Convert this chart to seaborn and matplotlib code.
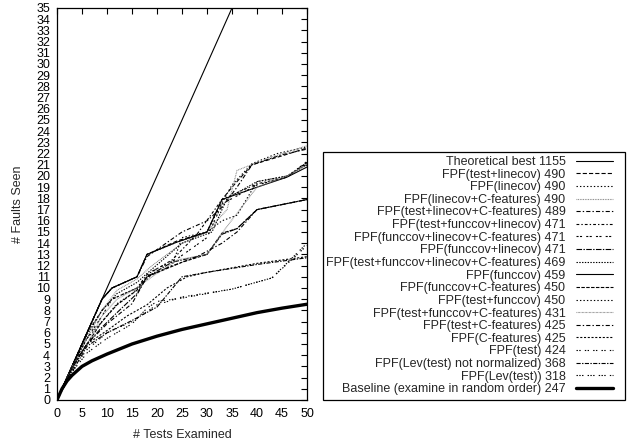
import matplotlib
matplotlib.use("Agg")
import matplotlib.pyplot as plt
from matplotlib.patches import Rectangle
import seaborn as sns
import pandas as pd

# ---------------- data ----------------
labels = [
    "Theoretical best 1155",
    "FPF(test+linecov) 490",
    "FPF(linecov) 490",
    "FPF(linecov+C-features) 490",
    "FPF(test+linecov+C-features) 489",
    "FPF(test+funccov+linecov) 471",
    "FPF(funccov+linecov+C-features) 471",
    "FPF(funccov+linecov) 471",
    "FPF(test+funccov+linecov+C-features) 469",
    "FPF(funccov) 459",
    "FPF(funccov+C-features) 450",
    "FPF(test+funccov) 450",
    "FPF(test+funccov+C-features) 431",
    "FPF(test+C-features) 425",
    "FPF(C-features) 425",
    "FPF(test) 424",
    "FPF(Lev(test) not normalized) 368",
    "FPF(Lev(test)) 318",
    "Baseline (examine in random order) 247",
]

best_x = [0, 50]
best_y = [0, 50]
test_linecov_x = [0, 3, 6, 9, 11, 16, 18, 24, 30, 33, 35, 39, 45, 50]
test_linecov_y = [0, 3, 6, 9, 10, 11, 13, 14.2, 15, 17.9, 19, 21, 21.8, 22.5]
linecov_x = [0, 3, 6, 9, 11, 16, 18, 24, 30, 32, 35, 39, 44, 50]
linecov_y = [0, 3, 6, 9, 10, 11, 13, 14.1, 15, 16.8, 19.2, 21.1, 22, 22.6]
linecov_c_x = [0, 3, 6, 9, 12, 16, 19, 25, 30, 34, 36, 40, 45, 50]
linecov_c_y = [0, 3, 5.5, 8, 9.8, 10.8, 12, 14, 15, 17, 20.5, 21.2, 22, 22.7]
test_linecov_c_x = [0, 3, 6, 9, 11, 16, 18, 25, 30, 33, 36, 39, 45, 50]
test_linecov_c_y = [0, 3, 6, 9, 10, 11, 12.8, 15, 16, 17.2, 19, 21, 21.9, 22.4]
test_funccov_linecov_x = [0, 3, 6, 9, 11, 16, 18, 23, 28, 33, 40, 46, 50]
test_funccov_linecov_y = [0, 3, 6, 8, 9, 10, 11.2, 12.5, 14.8, 17.9, 19.3, 19.9, 21.2]
funccov_linecov_c_x = [0, 3, 6, 9, 11, 16, 19, 24, 30, 33, 40, 46, 50]
funccov_linecov_c_y = [0, 3, 5.5, 7.5, 9, 10, 11.5, 12.6, 14.5, 17.5, 19.2, 19.9, 21.3]
funccov_linecov_x = [0, 3, 6, 9, 12, 16, 18, 23, 30, 33, 36, 40, 50]
funccov_linecov_y = [0, 2.8, 5, 6.5, 7.8, 9.5, 11, 12.3, 13, 14.8, 15.3, 17, 17.9]
test_funccov_linecov_c_x = [0, 3, 6, 9, 12, 16, 18, 25, 31, 34, 40, 46, 50]
test_funccov_linecov_c_y = [0, 3, 5.8, 8, 9.5, 10.5, 11.3, 14, 15, 18, 19.5, 20, 21]
funccov_x = [0, 3, 6, 9, 11, 16, 18, 24, 30, 33, 40, 46, 50]
funccov_y = [0, 3, 6, 9, 10, 11, 13, 14.1, 15, 17.9, 19, 19.9, 20.8]
funccov_c_x = [0, 3, 6, 9, 12, 16, 18, 25, 30, 33, 36, 40, 50]
funccov_c_y = [0, 3, 5, 7, 8.5, 9.8, 11, 12.3, 13, 14.9, 15.3, 17, 17.9]
test_funccov_x = [0, 3, 6, 9, 12, 15, 19, 23, 25, 30, 33, 36, 40, 46, 50]
test_funccov_y = [0, 3, 5.5, 7, 8.6, 9.5, 11.2, 12, 14.5, 15, 16, 16.5, 19.5, 20, 21.2]
test_funccov_c_x = [0, 3, 6, 9, 12, 16, 19, 24, 30, 34, 40, 46, 50]
test_funccov_c_y = [0, 3, 5, 7.5, 9, 10, 11, 12.5, 13, 15.5, 19, 20, 21]
test_c_x = [0, 3, 6, 10, 15, 18, 22, 28, 33, 36, 40, 50]
test_c_y = [0, 3, 5, 6.8, 8.6, 11, 11.8, 12.8, 14, 15, 17, 17.9]
c_features_x = [0, 3, 6, 10, 14, 18, 22, 26, 30, 35, 40, 50]
c_features_y = [0, 2.8, 5, 6.2, 7.5, 8.5, 10, 11, 11.4, 11.8, 12.2, 12.8]
test_x = [0, 3, 6, 10, 15, 20, 25, 35, 43, 50]
test_y = [0, 2.7, 4.5, 6, 7, 8.5, 9.2, 9.9, 10.9, 13.8]
lev_nn_x = [0, 3, 6, 10, 15, 20, 25, 30, 40, 50]
lev_nn_y = [0, 2.5, 4.8, 6, 7.1, 8.3, 11, 11.4, 12.1, 12.7]
lev_x = [0, 3, 6, 10, 15, 18, 20, 25, 35, 43, 50]
lev_y = [0, 2.5, 4.2, 5.5, 6.8, 8.2, 8.8, 9.1, 9.9, 10.9, 14]
baseline_x = [0, 1, 2, 3, 5, 7, 10, 15, 20, 25, 30, 35, 40, 45, 50]
baseline_y = [0, 1.0, 1.7, 2.2, 3.0, 3.5, 4.1, 5.0, 5.7, 6.3, 6.8, 7.3, 7.8, 8.2, 8.55]

xs = [best_x, test_linecov_x, linecov_x, linecov_c_x, test_linecov_c_x,
      test_funccov_linecov_x, funccov_linecov_c_x, funccov_linecov_x,
      test_funccov_linecov_c_x, funccov_x, funccov_c_x, test_funccov_x,
      test_funccov_c_x, test_c_x, c_features_x, test_x, lev_nn_x, lev_x, baseline_x]
ys = [best_y, test_linecov_y, linecov_y, linecov_c_y, test_linecov_c_y,
      test_funccov_linecov_y, funccov_linecov_c_y, funccov_linecov_y,
      test_funccov_linecov_c_y, funccov_y, funccov_c_y, test_funccov_y,
      test_funccov_c_y, test_c_y, c_features_y, test_y, lev_nn_y, lev_y, baseline_y]

# ---------------- styles ----------------
styles = [
    "-", (0, (3, 1.5)), (0, (1, 1.5)), (0, (0.6, 0.6)), (0, (3, 1.5, 1, 1.5)),
    (0, (2, 1.5, 1, 1.5)), (0, (1.5, 1, 1.5, 3)), (0, (4, 1, 1, 1)), (0, (1, 1)),
    "-", (0, (2.5, 1)), (0, (1, 1.5)), (0, (0.5, 0.5)), (0, (3, 1.5, 1, 1.5)),
    (0, (1.5, 1.2)), (0, (1, 1, 1, 3)), (0, (3, 1, 1, 1)), (0, (1, 1, 1, 1, 1, 3)), "-",
]
colors = ["black"] * 19
colors[3] = "#808080"
colors[12] = "#808080"
widths = [0.8] * 19
widths[18] = 2.4

sns.set_style("white")
plt.rcParams["font.family"] = ["Liberation Sans", "DejaVu Sans"]
plt.rcParams["lines.scale_dashes"] = False

FS = 9
W, H = 631, 442
fig = plt.figure(figsize=(W / 100, H / 100), dpi=100)
ax = fig.add_axes([57 / W, (H - 400) / H, 250 / W, 392 / H])

handles = []
for i in range(19):
    df = pd.DataFrame({"x": xs[i], "y": ys[i]})
    sns.lineplot(data=df, x="x", y="y", ax=ax, color=colors[i], linewidth=widths[i],
                 linestyle=styles[i], estimator=None, legend=False)
    handles.append(ax.get_lines()[-1])

ax.set_xlim(0, 50)
ax.set_ylim(0, 35)
ax.set_xticks(range(0, 51, 5))
ax.set_yticks(range(0, 36, 1))
ax.tick_params(direction="in", length=4, width=0.8, top=True, right=True,
               labelsize=FS, colors="black")
ax.tick_params(axis="y", pad=5)
ax.tick_params(axis="x", pad=6)
for sp in ax.spines.values():
    sp.set_color("black")
    sp.set_linewidth(0.9)
ax.set_xlabel("# Tests Examined", fontsize=FS, labelpad=6)
ax.set_ylabel("# Faults Seen", fontsize=FS, labelpad=9)

leg = ax.legend(handles, labels, loc="upper right",
                bbox_to_anchor=(613 / W, (H - 156) / H), bbox_transform=fig.transFigure,
                markerfirst=False, frameon=False, fontsize=FS, labelspacing=0.05,
                handlelength=3.0, handletextpad=0.8, borderpad=0, borderaxespad=0)
fig.add_artist(Rectangle((323 / W, (H - 400) / H), 302 / W, 248 / H,
                         transform=fig.transFigure, fill=False,
                         edgecolor="black", linewidth=0.9))

fig.savefig("out.png", dpi=100)
